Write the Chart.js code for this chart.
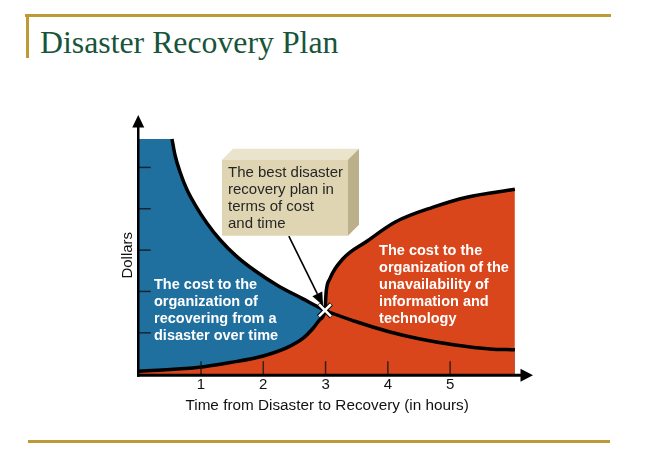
<!DOCTYPE html>
<html>
<head>
<meta charset="utf-8">
<script src="https://cdn.jsdelivr.net/npm/chart.js@4.4.1/dist/chart.umd.min.js"></script>
<style>
html,body{margin:0;padding:0;background:#fff;}
#wrap{position:relative;width:648px;height:468px;overflow:hidden;background:#fff;}
#title{position:absolute;left:40px;top:27px;font-family:'Liberation Serif','Times New Roman',serif;font-size:31.8px;line-height:1;color:#17553a;white-space:nowrap;}
.gold{position:absolute;background:#bd9a34;}
#c{position:absolute;left:0;top:0;}
</style>
</head>
<body>
<div id="wrap">
<div class="gold" style="left:25px;top:14px;width:586px;height:3px"></div>
<div class="gold" style="left:26px;top:14px;width:3px;height:44px"></div>
<div class="gold" style="left:28px;top:440px;width:582px;height:3px"></div>
<div id="title">Disaster Recovery Plan</div>
<canvas id="c" width="648" height="468"></canvas>
</div>
<script>
// ---- data (hours on x, dollars on y) ----
const xTicks = [1, 2, 3, 4, 5];
const yTicks = [1, 2, 3, 4, 5];
const recoveryHours = [0, 0.534, 0.582, 0.663, 0.775, 0.92, 1.096, 1.305, 1.562, 1.867, 2.236, 2.622, 2.99, 3.47, 4.035, 4.517, 5.08, 5.64, 6.04];
const recoveryCost  = [5.687, 5.687, 5.30, 4.89, 4.46, 4.06, 3.65, 3.25, 2.86, 2.50, 2.14, 1.833, 1.545, 1.28, 1.02, 0.85, 0.706, 0.61, 0.587];
const unavailHours = [0, 0.94, 1.47, 2.0, 2.38, 2.64, 2.80, 2.91, 2.99, 3.01, 3.07, 3.28, 3.67, 4.12, 4.73, 5.27, 6.04];
const unavailCost  = [0.07, 0.16, 0.28, 0.44, 0.64, 0.87, 1.11, 1.32, 1.545, 2.0, 2.31, 2.79, 3.22, 3.68, 4.04, 4.28, 4.47];
const bestPoint = [2.99, 1.545];

const boxLines = ['The best disaster', 'recovery plan in', 'terms of cost', 'and time'];
const blueLines = ['The cost to the', 'organization of', 'recovering from a', 'disaster over time'];
const redLines = ['The cost to the', 'organization of the', 'unavailability of', 'information and', 'technology'];

// annotation anchors in data units
const boxAnchor = [1.337, 5.186];
const blueAnchor = [0.245, 2.144];
const redAnchor = [3.86, 2.98];
const arrowFrom = [2.41, 3.34];
const arrowTo = [2.96, 1.66];

const FONT = "'Liberation Sans', Arial, Helvetica, sans-serif";
const BLUE = '#1f6f9f';
const RED = '#da461c';

const toPts = (xs, ys) => xs.map((v, i) => ({x: v, y: ys[i]}));
const recoveryPts = toPts(recoveryHours, recoveryCost);
const unavailPts = toPts(unavailHours, unavailCost);

const overlay = {
  id: 'overlay',
  afterDatasetsDraw(chart) {
    const {ctx, chartArea: a, scales: {x, y}} = chart;
    ctx.save();
    // inner tick marks
    ctx.strokeStyle = 'rgba(20,20,20,0.8)';
    ctx.lineWidth = 1.5;
    xTicks.forEach(v => {
      const px = x.getPixelForValue(v);
      ctx.beginPath(); ctx.moveTo(px, a.bottom); ctx.lineTo(px, a.bottom - 13); ctx.stroke();
    });
    yTicks.forEach(v => {
      const py = y.getPixelForValue(v);
      ctx.beginPath(); ctx.moveTo(a.left, py); ctx.lineTo(a.left + 12, py); ctx.stroke();
    });
    // axes with arrowheads
    ctx.strokeStyle = '#000'; ctx.fillStyle = '#000';
    ctx.lineWidth = 2.5;
    ctx.beginPath(); ctx.moveTo(a.left - 0.5, a.bottom + 2.7); ctx.lineTo(a.left - 0.5, a.top - 10); ctx.stroke();
    ctx.beginPath(); ctx.moveTo(a.left - 0.5, a.top - 21.5); ctx.lineTo(a.left - 6.5, a.top - 9); ctx.lineTo(a.left + 5.5, a.top - 9); ctx.closePath(); ctx.fill();
    ctx.lineWidth = 3;
    ctx.beginPath(); ctx.moveTo(a.left - 1.5, a.bottom + 1.2); ctx.lineTo(a.right + 6, a.bottom + 1.2); ctx.stroke();
    ctx.beginPath(); ctx.moveTo(a.right + 17.5, a.bottom + 1.2); ctx.lineTo(a.right + 5, a.bottom - 5.3); ctx.lineTo(a.right + 5, a.bottom + 7.7); ctx.closePath(); ctx.fill();

    // pointer arrow
    const sx = x.getPixelForValue(arrowFrom[0]), sy = y.getPixelForValue(arrowFrom[1]);
    const tx = x.getPixelForValue(arrowTo[0]), ty = y.getPixelForValue(arrowTo[1]);
    const ang = Math.atan2(ty - sy, tx - sx);
    const hl = 13, hw = 5.5;
    const bx = tx - hl * Math.cos(ang), by = ty - hl * Math.sin(ang);
    ctx.lineWidth = 1.6;
    ctx.beginPath(); ctx.moveTo(sx, sy); ctx.lineTo(bx, by); ctx.stroke();
    ctx.beginPath();
    ctx.moveTo(tx, ty);
    ctx.lineTo(bx + hw * Math.sin(ang), by - hw * Math.cos(ang));
    ctx.lineTo(bx - hw * Math.sin(ang), by + hw * Math.cos(ang));
    ctx.closePath(); ctx.fill();

    // 3D callout box
    const fx = x.getPixelForValue(boxAnchor[0]), fy = y.getPixelForValue(boxAnchor[1]);
    const w = 126, h = 76, d = 11;
    ctx.fillStyle = '#ebe4cc';
    ctx.beginPath(); ctx.moveTo(fx, fy); ctx.lineTo(fx + d, fy - d); ctx.lineTo(fx + w + d, fy - d); ctx.lineTo(fx + w, fy); ctx.closePath(); ctx.fill();
    ctx.fillStyle = '#bcb08a';
    ctx.beginPath(); ctx.moveTo(fx + w, fy); ctx.lineTo(fx + w + d, fy - d); ctx.lineTo(fx + w + d, fy + h - d); ctx.lineTo(fx + w, fy + h); ctx.closePath(); ctx.fill();
    ctx.fillStyle = '#e0d5b2';
    ctx.fillRect(fx, fy, w, h);
    ctx.fillStyle = '#262626';
    ctx.font = '15px ' + FONT;
    ctx.textBaseline = 'middle'; ctx.textAlign = 'left';
    boxLines.forEach((t, i) => ctx.fillText(t, fx + 6, fy + 13.5 + i * 17));

    // area labels
    ctx.fillStyle = '#ffffff';
    ctx.font = 'bold 14.5px ' + FONT;
    const bxp = x.getPixelForValue(blueAnchor[0]), byp = y.getPixelForValue(blueAnchor[1]);
    blueLines.forEach((t, i) => ctx.fillText(t, bxp, byp + i * 17));
    const rxp = x.getPixelForValue(redAnchor[0]), ryp = y.getPixelForValue(redAnchor[1]);
    redLines.forEach((t, i) => ctx.fillText(t, rxp, ryp + i * 17));
    ctx.restore();
  }
};

new Chart(document.getElementById('c'), {
  type: 'line',
  data: {
    datasets: [
      {label: 'best', type: 'scatter', data: [{x: bestPoint[0], y: bestPoint[1]}], pointStyle: 'crossRot', pointRadius: 8.5, pointBorderColor: '#ffffff', pointBorderWidth: 2.5, pointBackgroundColor: '#ffffff', order: 0},
      {label: 'best outline', type: 'scatter', data: [{x: bestPoint[0], y: bestPoint[1]}], pointStyle: 'crossRot', pointRadius: 9, pointBorderColor: '#000000', pointBorderWidth: 4.5, order: 1},
      {label: 'recovery line', data: recoveryPts.slice(1), borderColor: '#000', borderWidth: 3.5, fill: false, pointRadius: 0, cubicInterpolationMode: 'monotone', order: 2},
      {label: 'unavailability', data: unavailPts, borderColor: '#000', borderWidth: 3.5, backgroundColor: RED, fill: 'origin', pointRadius: 0, cubicInterpolationMode: 'monotone', order: 3},
      {label: 'recovery area', data: recoveryPts, borderColor: 'rgba(0,0,0,0)', borderWidth: 1, backgroundColor: BLUE, fill: 'origin', pointRadius: 0, cubicInterpolationMode: 'monotone', order: 4}
    ]
  },
  options: {
    responsive: false,
    animation: false,
    events: [],
    layout: {padding: {left: 118.5, top: 136.4, right: 132.5, bottom: 53.5}},
    plugins: {legend: {display: false}, tooltip: {enabled: false}},
    scales: {
      x: {
        type: 'linear', min: 0, max: 6.05,
        grid: {display: false, drawTicks: false}, border: {display: false},
        ticks: {stepSize: 1, padding: 2, maxRotation: 0, autoSkip: false, color: '#111', font: {family: FONT, size: 15},
          callback: v => xTicks.includes(v) ? String(v) : ''},
        title: {display: true, text: 'Time from Disaster to Recovery (in hours)', color: '#111', font: {family: FONT, size: 15.3}, padding: {top: 0, bottom: 0}}
      },
      y: {
        type: 'linear', min: 0, max: 5.75,
        grid: {display: false, drawTicks: false}, border: {display: false},
        ticks: {display: false},
        title: {display: true, text: 'Dollars', color: '#111', font: {family: FONT, size: 15}, padding: {top: 0, bottom: 2.25}}
      }
    }
  },
  plugins: [overlay]
});
</script>
</body>
</html>
